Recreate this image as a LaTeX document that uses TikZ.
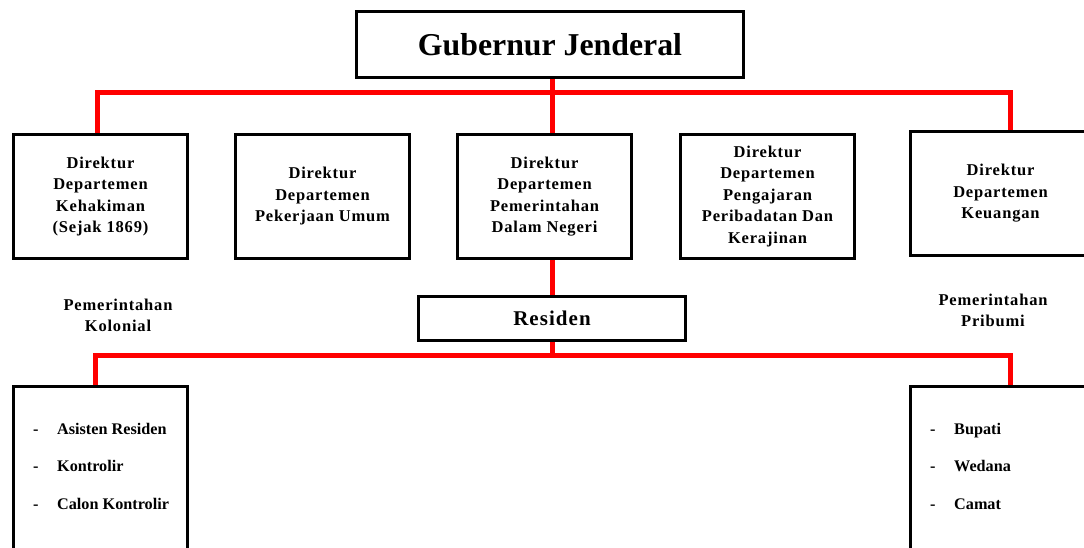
\documentclass[tikz,border=0pt]{standalone}
\usepackage{fontspec}
\setmainfont{Liberation Serif}
\newfontfamily\spfam{Liberation Serif}[LetterSpace=5]
\begin{document}
\begin{tikzpicture}[x=1pt,y=-1pt,
  box/.style={draw=black, line width=3pt, fill=white, inner sep=0pt, align=center,
    font=\spfam\bfseries\fontsize{16.5}{21.5}\selectfont},
  dbox/.style={box, minimum width=174pt, minimum height=124pt},
  lbl/.style={inner sep=0pt, align=center, font=\spfam\bfseries\fontsize{16.5}{21}\selectfont},
  lst/.style={inner sep=0pt, align=left, font=\bfseries\fontsize{16.2}{37.5}\selectfont},
  redline/.style={draw=red, line width=5pt},
 ]
\clip (0,0) rectangle (1084,547);
\fill[white] (0,0) rectangle (1084,547);

% top
\node[box, minimum width=387pt, minimum height=66pt, font=\bfseries\fontsize{31.8}{36}\selectfont] (gj) at (550,44.5) {Gubernur Jenderal};

% directors
\node[dbox] (d1) at (100.5,196.5) {Direktur\\Departemen\\Kehakiman\\(Sejak 1869)};
\node[dbox] (d2) at (322.5,196.5) {Direktur\\Departemen\\Pekerjaan Umum};
\node[dbox] (d3) at (544.5,196.5) {Direktur\\Departemen\\Pemerintahan\\Dalam Negeri};
\node[dbox] (d4) at (767.5,196.5) {Direktur\\Departemen\\Pengajaran\\Peribadatan Dan\\Kerajinan};
\node[box, minimum width=180pt, minimum height=124pt] (d5) at (1000.5,193.5) {Direktur\\Departemen\\Keuangan};

% residen
\node[box, minimum width=267pt, minimum height=44pt, font=\spfam\bfseries\fontsize{21}{24}\selectfont] (res) at (552,318.5) {Residen};

% side labels
\node[lbl] (kol) at (118,315.5) {Pemerintahan\\Kolonial};
\node[lbl] (pri) at (993,310.5) {Pemerintahan\\Pribumi};

% bottom boxes
\node[box, minimum width=174pt, minimum height=214pt] (b1) at (100.5,493.5) {};
\node[box, minimum width=180pt, minimum height=214pt] (b2) at (1000.5,493.5) {};
\node[lst, anchor=west] (l1) at (33,466) {\makebox[24pt][l]{-}Asisten Residen\\\makebox[24pt][l]{-}Kontrolir\\\makebox[24pt][l]{-}Calon Kontrolir};
\node[lst, anchor=west] (l2) at (930,466) {\makebox[24pt][l]{-}Bupati\\\makebox[24pt][l]{-}Wedana\\\makebox[24pt][l]{-}Camat};

% connectors
\coordinate (bar) at (552,92);
\coordinate (bar2) at (552,355);
\draw[redline] ([xshift=-3.5pt]d1.north) |- (bar) -| ([xshift=9.5pt]d5.north);
\draw[redline] (bar) -- (bar |- gj.south);
\draw[redline] (bar) -- (bar |- d3.north);
\draw[redline] (res.north |- d3.south) -- (res.north);
\draw[redline] (res.south) -- (bar2);
\draw[redline] ([xshift=-5pt]b1.north) |- (bar2) -| ([xshift=9.5pt]b2.north);
\end{tikzpicture}
\end{document}
